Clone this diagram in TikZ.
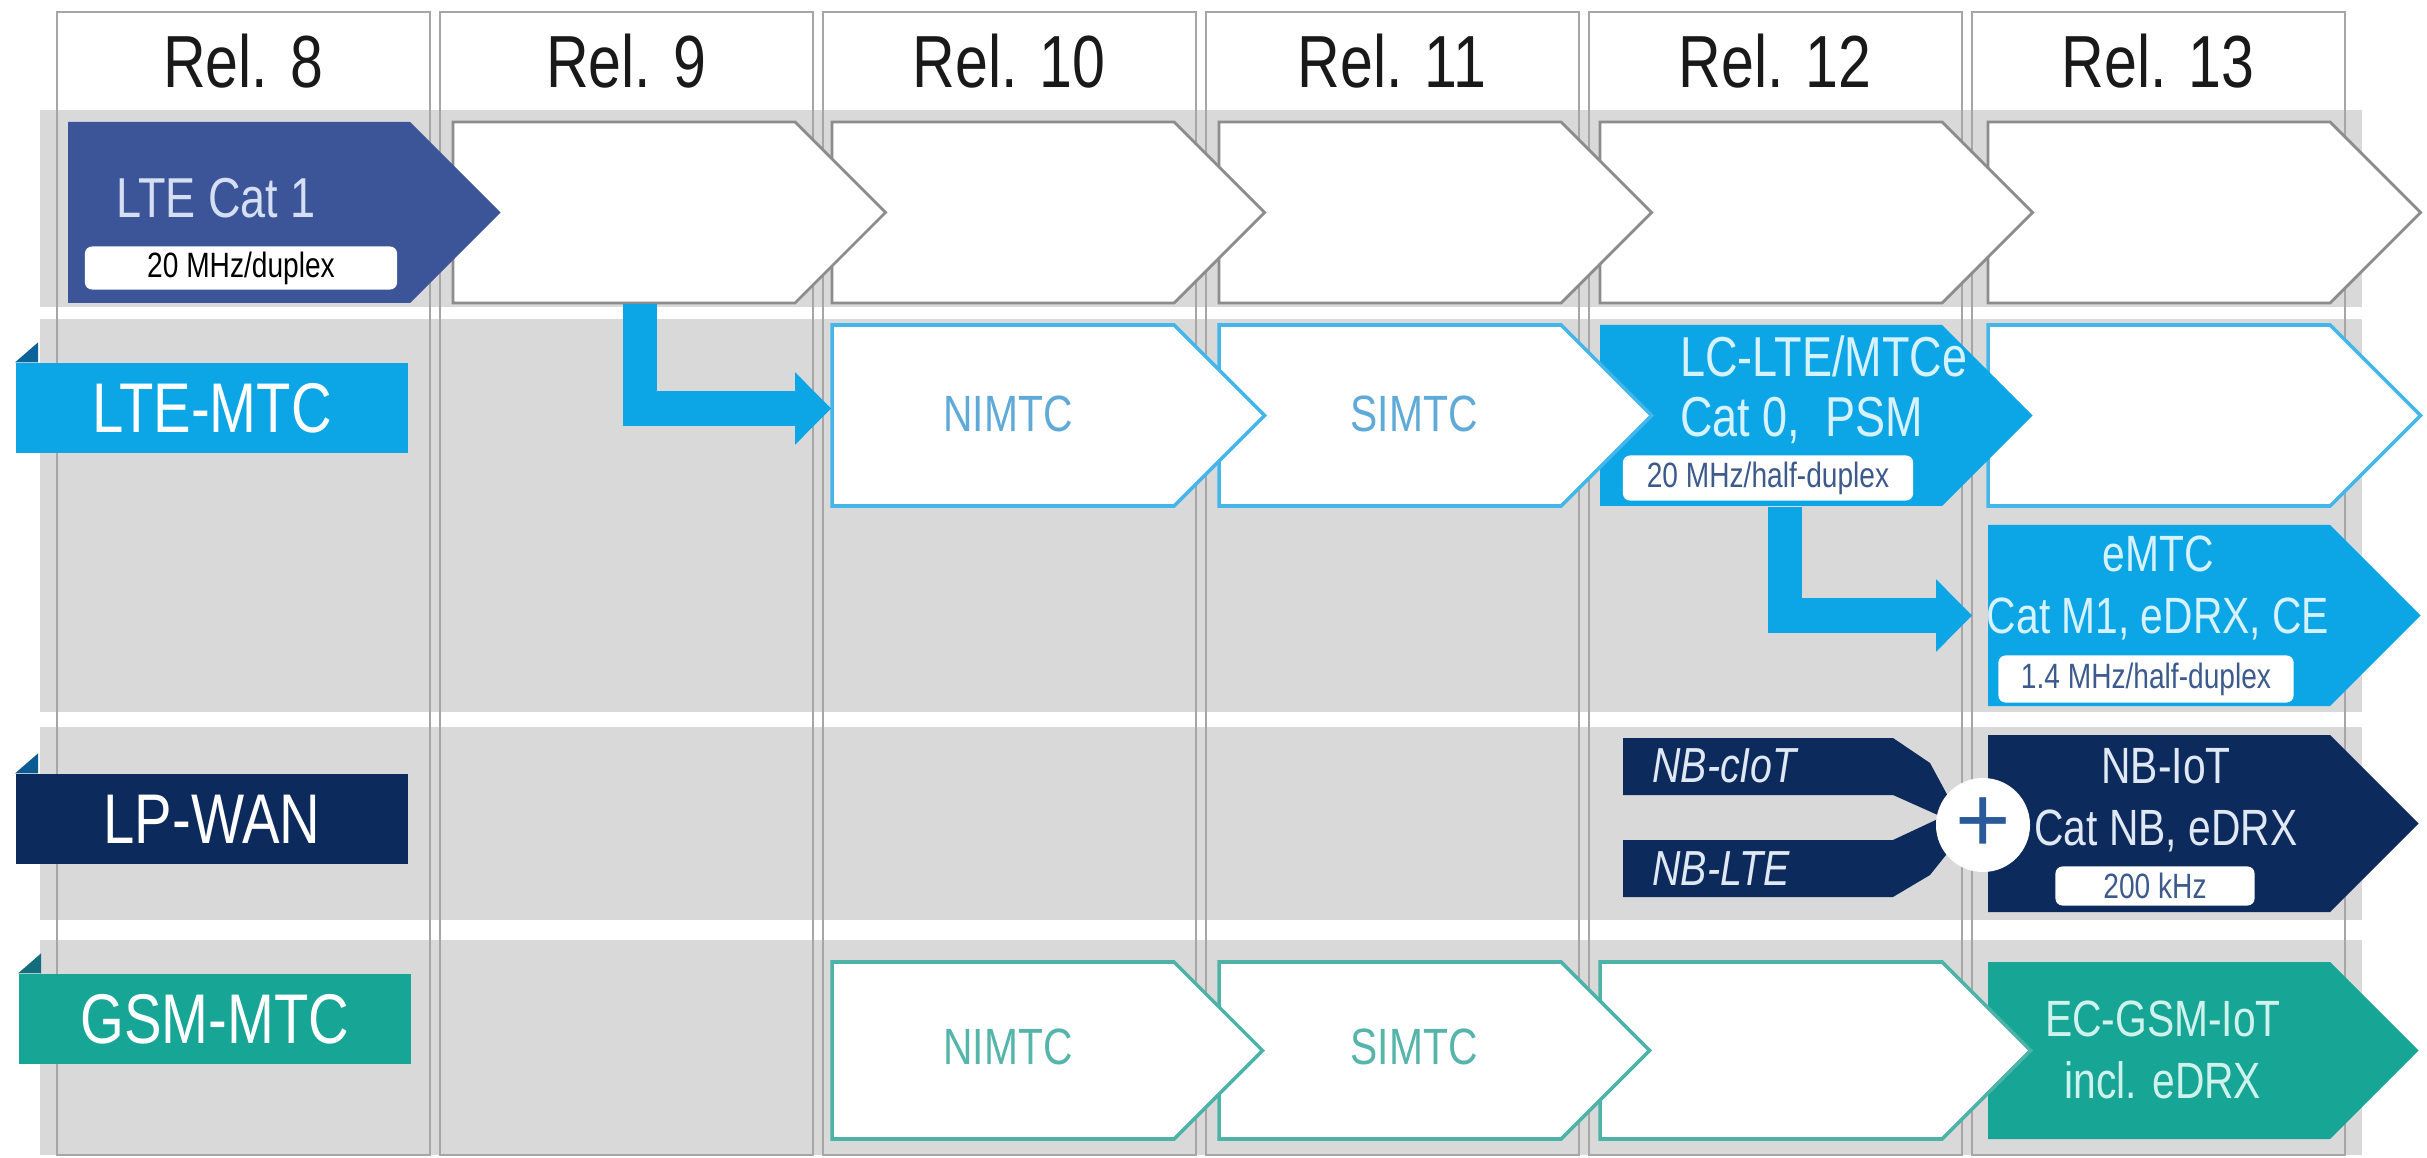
\documentclass[tikz,border=0pt]{standalone}
\usepackage{fontspec}
\setmainfont{Liberation Sans}[FakeStretch=0.8]
\newfontfamily\plusfont{Liberation Sans}
\usepackage{tikz}
\usetikzlibrary{arrows.meta}

\definecolor{bandgrey}{HTML}{D9D9D9}
\definecolor{colline}{HTML}{A6A6A6}
\definecolor{boxline}{HTML}{8C8C8C}
\definecolor{catone}{HTML}{3B5598}
\definecolor{mtccyan}{HTML}{0CA6E6}
\definecolor{mtcline}{HTML}{45B6EA}
\definecolor{lpnavy}{HTML}{0C2A5C}
\definecolor{gsmteal}{HTML}{17A596}
\definecolor{gsmline}{HTML}{4DB3A8}
\definecolor{nimtcblue}{HTML}{5FAAD8}
\definecolor{nimtcteal}{HTML}{56B5AA}
\definecolor{plusblue}{HTML}{2A5A9A}
\definecolor{smalltext}{HTML}{3C5A8C}
\definecolor{paleone}{HTML}{D5DEF2}
\definecolor{palecyan}{HTML}{D6F1FF}
\definecolor{palenavy}{HTML}{E0E8F4}
\definecolor{paleteal}{HTML}{CFF3EC}

% chevron box: style, name, left, top, height
\newcommand{\relbox}[5]{%
  \path[#1] (#3,#4) -- ++(342,0) -- ++(#5/2,#5/2) -- ++(-#5/2,#5/2) -- ++(-342,0) -- cycle;
  \node[boxbody, minimum height=#5*0.01cm] (#2) at (#3+171,#4+#5/2) {};
}

\begin{document}
\begin{tikzpicture}[x=0.01cm, y=-0.01cm,
    boxbody/.style={inner sep=0pt, minimum width=3.42cm},
    whitebox/.style={fill=white, draw=boxline, line width=0.8pt},
    mtcwhite/.style={fill=white, draw=mtcline, line width=1pt},
    gsmwhite/.style={fill=white, draw=gsmline, line width=1pt},
    colframe/.style={draw=colline, line width=0.8pt},
    relhead/.style={font=\fontsize{21}{23}\selectfont, text=black!90},
    catlabel/.style={minimum width=3.92cm, minimum height=0.90cm, inner sep=0pt,
      text=white, font=\fontsize{20}{22}\selectfont},
    midtext/.style={font=\fontsize{14.5}{17.5}\selectfont, align=center},
    bigtext/.style={font=\fontsize{16}{17}\selectfont},
    smallbox/.style={fill=white, rounded corners=2pt, inner sep=0pt,
      font=\fontsize{10}{11}\selectfont},
    nbtext/.style={font=\fontsize{14}{16}\selectfont\itshape, text=palenavy, anchor=west},
    larrow/.style={draw=mtccyan, line width=0.34cm, line join=miter,
      -{Triangle[length=0.36cm,width=0.70cm]}}]

  \fill[white] (0,0) rectangle (2427,1158);
  \useasboundingbox (0,0) rectangle (2427,1158);

  % bands and release columns
  \fill[bandgrey] (40,110) rectangle (2362,307);
  \fill[bandgrey] (40,319) rectangle (2362,712);
  \fill[bandgrey] (40,727) rectangle (2362,920);
  \fill[bandgrey] (40,940) rectangle (2362,1155);
  \foreach \i/\r in {0/8,1/9,2/10,3/11,4/12,5/13}{
    \draw[colframe] (57+383*\i,12) rectangle (430+383*\i,1155);
    \node[relhead] (rel\r) at (243+383*\i,61) {Rel. \r};
  }

  % row 1
  \foreach \x/\n in {1988/r13a,1600/r12a,1219/r11a,832/r10a,453/r9a}
    {\relbox{whitebox}{\n}{\x}{122}{181}}
  \relbox{fill=catone}{r8a}{68}{122}{181}
  \node[bigtext, text=paleone] (cat1) at (216,198) {LTE Cat 1};
  \node[smallbox, minimum width=3.12cm, minimum height=0.43cm, text=black] (cat1bw) at (241,268) {20 MHz/duplex};

  % row 2
  \relbox{mtcwhite}{r13b}{1988}{325}{181}
  \relbox{fill=mtccyan}{lclte}{1600}{325}{181}
  \relbox{mtcwhite}{simtc}{1219}{325}{181}
  \relbox{mtcwhite}{nimtc}{832}{325}{181}
  \node[midtext, text=nimtcblue] (nimtctxt) at (1008,414) {NIMTC};
  \node[midtext, text=nimtcblue] (simtctxt) at (1414,414) {SIMTC};
  \node[bigtext, anchor=west, align=left, text=palecyan] (lctxt) at (1668,390) {LC-LTE/MTCe\\Cat 0,\ \ PSM};
  \node[smallbox, minimum width=2.90cm, minimum height=0.45cm, text=smalltext] (lcbw) at (1768,478) {20 MHz/half-duplex};

  \relbox{fill=mtccyan}{emtc}{1988}{525}{181}
  \node[midtext, text=palecyan] (emtctxt) at (2158,588) {eMTC\\Cat M1, eDRX, CE};
  \node[smallbox, minimum width=2.95cm, minimum height=0.47cm, text=smalltext] (emtcbw) at (2146,679) {1.4 MHz/half-duplex};

  \draw[larrow] ([xshift=0.16cm]r9a.south) |- ([yshift=0.07cm]nimtc.west);
  \draw[larrow, shorten >=0.15cm] ([xshift=0.14cm]lclte.south) |- (emtc.west);

  % row 3
  \relbox{fill=lpnavy}{nbiot}{1988}{735}{177}
  \fill[lpnavy] (1623,738) -- (1893,738) -- (1930,763) -- (1950,800) -- (1940,816) -- (1893,795) -- (1623,795) -- cycle;
  \fill[lpnavy] (1623,840) -- (1893,840) -- (1940,818) -- (1950,850) -- (1930,875) -- (1893,897) -- (1623,897) -- cycle;
  \node[nbtext] (nbciot) at (1640,766) {NB-cIoT};
  \node[nbtext] (nblte) at (1640,869) {NB-LTE};
  \node[circle, fill=white, inner sep=0pt, minimum size=0.94cm, text=plusblue,
    font=\plusfont\fontsize{27}{27}\selectfont] (plus) at (1983,825) {+};
  \node[midtext, text=palenavy] (nbiottxt) at (2166,800) {NB-IoT\\Cat NB, eDRX};
  \node[smallbox, minimum width=1.99cm, minimum height=0.39cm, text=smalltext] (nbiotbw) at (2155,886) {200 kHz};

  % row 4
  \relbox{fill=gsmteal}{ecgsm}{1988}{962}{177}
  \relbox{gsmwhite}{r12d}{1600}{962}{177}
  \relbox{gsmwhite}{simtcg}{1219}{962}{177}
  \relbox{gsmwhite}{nimtcg}{832}{962}{177}
  \node[midtext, text=nimtcteal] (nimtcgtxt) at (1008,1047) {NIMTC};
  \node[midtext, text=nimtcteal] (simtcgtxt) at (1414,1047) {SIMTC};
  \node[midtext, text=paleteal] (ecgsmtxt) at (2163,1050) {EC-GSM-IoT\\incl. eDRX};

  % technology labels
  \node[catlabel, fill=mtccyan] (ltemtc) at (212,408) {LTE-MTC};
  \fill[mtccyan!45!lpnavy] (ltemtc.north west) -- ++(23,-20) -- ++(0,20) -- cycle;
  \node[catlabel, fill=lpnavy] (lpwan) at (212,819) {LP-WAN};
  \fill[lpnavy!60!mtccyan] (lpwan.north west) -- ++(23,-20) -- ++(0,20) -- cycle;
  \node[catlabel, fill=gsmteal] (gsmmtc) at (215,1019) {GSM-MTC};
  \fill[gsmteal!55!lpnavy] (gsmmtc.north west) -- ++(23,-20) -- ++(0,20) -- cycle;
\end{tikzpicture}
\end{document}
